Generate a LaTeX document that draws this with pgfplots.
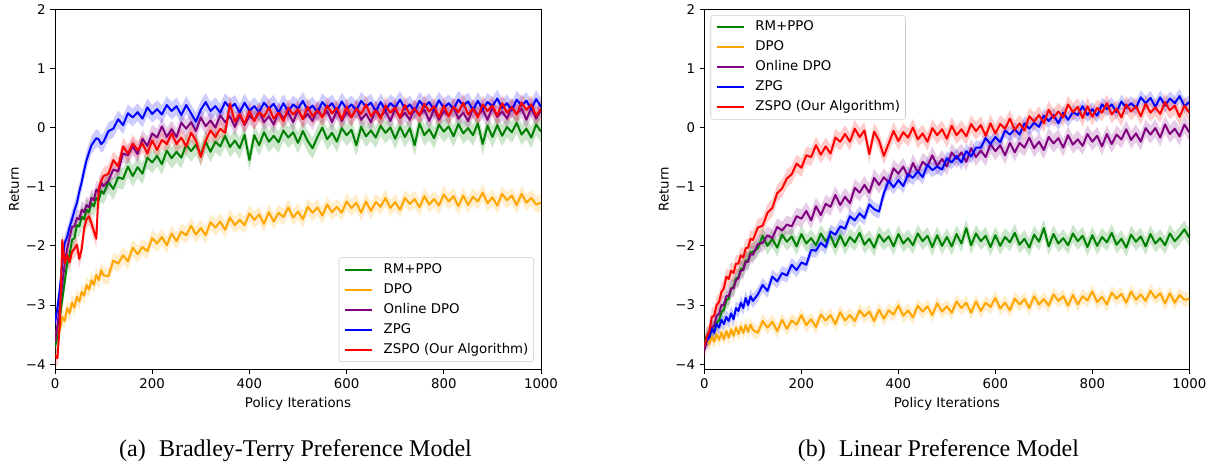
\documentclass[border=0pt]{standalone}
\usepackage{fontspec}
\setmainfont{DejaVu Sans}
\newfontfamily\capfont{Liberation Serif}
\usepackage{pgfplots}
\usepackage{pgfplotstable}
\pgfplotsset{compat=1.18}
\usepgfplotslibrary{fillbetween}

\definecolor{mgreen}{HTML}{008000}
\definecolor{morange}{HTML}{FFA500}
\definecolor{mpurple}{HTML}{800080}
\definecolor{mblue}{HTML}{0000FF}
\definecolor{mred}{HTML}{FF0000}

% (a) Bradley-Terry: g=RM+PPO, o=DPO, p=Online DPO, b=ZPG, r=ZSPO
\pgfplotstableread{
x g o p b r
0 -3.70 -3.60 -3.62 -3.30 -3.85
5 -3.55 -3.38 -3.35 -3.05 -3.90
10 -3.20 -3.42 -3.00 -2.72 -3.30
15 -2.90 -3.20 -2.65 -2.30 -1.90
20 -2.60 -3.27 -2.30 -1.95 -2.30
25 -2.30 -3.05 -2.05 -1.85 -2.15
30 -2.15 -3.14 -1.86 -1.68 -2.28
35 -1.90 -2.96 -1.68 -1.55 -2.10
40 -1.87 -3.04 -1.67 -1.40 -2.05
45 -1.65 -2.86 -1.53 -1.28 -1.98
50 -1.67 -2.94 -1.55 -1.08 -2.22
55 -1.51 -2.78 -1.39 -0.92 -2.05
60 -1.55 -2.84 -1.43 -0.72 -1.70
65 -1.39 -2.66 -1.31 -0.55 -1.55
70 -1.43 -2.74 -1.35 -0.42 -1.50
75 -1.28 -2.58 -1.19 -0.30 -1.62
80 -1.33 -2.66 -1.23 -0.24 -1.75
85 -1.19 -2.49 -1.05 -0.18 -1.88
90 -1.23 -2.58 -1.09 -0.20 -1.02
95 -1.07 -2.41 -0.93 -0.28 -0.90
100 -1.12 -2.50 -0.99 -0.24 -0.82
110 -0.92 -2.51 -0.90 -0.06 -0.78
120 -1.04 -2.25 -0.71 -0.02 -0.55
130 -0.84 -2.30 -0.74 0.14 -0.66
140 -0.87 -2.16 -0.44 0.04 -0.32
150 -0.66 -2.26 -0.47 0.24 -0.44
160 -0.82 -2.03 -0.32 0.17 -0.27
170 -0.67 -2.14 -0.45 0.26 -0.38
180 -0.78 -2.02 -0.19 0.15 -0.27
190 -0.51 -2.09 -0.31 0.34 -0.44
200 -0.59 -1.87 -0.10 0.23 -0.22
210 -0.48 -1.96 -0.17 0.31 -0.38
220 -0.62 -1.85 0.02 0.22 -0.21
230 -0.39 -1.99 -0.16 0.38 -0.28
240 -0.52 -1.79 -0.03 0.28 -0.10
250 -0.41 -1.92 -0.16 0.36 -0.28
260 -0.51 -1.76 0.08 0.21 -0.17
270 -0.29 -1.82 -0.02 0.38 -0.32
280 -0.40 -1.66 0.09 0.24 -0.09
290 -0.29 -1.81 -0.06 0.10 -0.22
300 -0.46 -1.70 0.17 0.30 -0.50
310 -0.24 -1.82 0.02 0.43 -0.22
320 -0.41 -1.60 0.12 0.28 -0.05
330 -0.24 -1.69 0.00 0.36 -0.16
340 -0.32 -1.59 0.21 0.25 -0.02
350 -0.14 -1.73 0.09 0.43 -0.09
360 -0.33 -1.52 0.19 0.33 0.40
370 -0.22 -1.65 0.01 0.40 0.10
380 -0.35 -1.56 0.21 0.25 0.23
390 -0.12 -1.65 0.04 0.42 0.06
400 -0.55 -1.45 0.20 0.28 0.28
410 -0.13 -1.56 0.12 0.36 0.11
420 -0.30 -1.47 0.28 0.26 0.26
430 -0.08 -1.63 0.09 0.42 0.18
440 -0.24 -1.43 0.19 0.32 0.34
450 -0.14 -1.59 0.05 0.40 0.15
460 -0.25 -1.44 0.27 0.25 0.25
470 -0.05 -1.51 0.16 0.41 0.11
480 -0.17 -1.35 0.25 0.27 0.33
490 -0.08 -1.52 0.09 0.39 0.22
500 -0.26 -1.42 0.30 0.32 0.31
510 -0.06 -1.55 0.14 0.45 0.14
520 -0.23 -1.34 0.23 0.29 0.35
530 -0.35 -1.44 0.11 0.37 0.19
540 -0.16 -1.35 0.31 0.25 0.29
550 0.00 -1.49 0.19 0.43 0.17
560 -0.20 -1.30 0.28 0.33 0.37
570 -0.09 -1.43 0.09 0.41 0.24
580 -0.24 -1.34 0.29 0.27 0.33
590 -0.01 -1.44 0.11 0.44 0.14
600 -0.13 -1.25 0.26 0.31 0.35
610 -0.04 -1.36 0.17 0.39 0.17
620 -0.30 -1.27 0.33 0.29 0.32
630 0.01 -1.44 0.13 0.45 0.23
640 -0.15 -1.25 0.23 0.35 0.39
650 -0.05 -1.41 0.09 0.42 0.19
660 -0.17 -1.26 0.31 0.27 0.29
670 0.03 -1.34 0.19 0.43 0.15
680 -0.09 -1.19 0.28 0.29 0.37
690 0.00 -1.36 0.11 0.41 0.25
700 -0.19 -1.26 0.32 0.34 0.34
710 0.01 -1.39 0.16 0.47 0.17
720 -0.16 -1.19 0.25 0.31 0.38
730 -0.01 -1.29 0.13 0.39 0.22
740 -0.30 -1.21 0.33 0.27 0.32
750 0.07 -1.35 0.21 0.45 0.20
760 -0.13 -1.16 0.30 0.35 0.40
770 -0.03 -1.30 0.11 0.43 0.27
780 -0.18 -1.21 0.31 0.29 0.36
790 0.05 -1.32 0.13 0.46 0.17
800 -0.07 -1.13 0.28 0.33 0.37
810 0.02 -1.25 0.19 0.41 0.19
820 -0.15 -1.16 0.35 0.31 0.35
830 0.06 -1.33 0.15 0.47 0.26
840 -0.10 -1.15 0.25 0.37 0.42
850 -0.01 -1.31 0.11 0.44 0.22
860 -0.13 -1.17 0.33 0.29 0.32
870 0.07 -1.25 0.21 0.45 0.17
880 -0.28 -1.10 0.30 0.31 0.39
890 0.03 -1.28 0.13 0.43 0.28
900 -0.16 -1.18 0.34 0.36 0.37
910 0.04 -1.32 0.18 0.49 0.20
920 -0.14 -1.12 0.27 0.33 0.41
930 0.01 -1.23 0.15 0.41 0.25
940 -0.08 -1.15 0.35 0.29 0.34
950 0.08 -1.31 0.23 0.47 0.22
960 -0.12 -1.12 0.32 0.37 0.42
970 -0.02 -1.27 0.13 0.45 0.30
980 -0.17 -1.19 0.33 0.31 0.39
990 0.05 -1.30 0.15 0.48 0.20
1000 -0.07 -1.27 0.30 0.35 0.32
}\btdata

% (b) Linear preference model
\pgfplotstableread{
x g o p b r
0 -3.62 -3.72 -3.75 -3.70 -3.70
5 -3.52 -3.60 -3.60 -3.58 -3.52
10 -3.52 -3.66 -3.52 -3.55 -3.45
15 -3.42 -3.53 -3.38 -3.40 -3.20
20 -3.42 -3.62 -3.35 -3.47 -3.18
25 -3.30 -3.49 -3.18 -3.32 -3.00
30 -3.26 -3.59 -3.15 -3.38 -2.95
35 -3.12 -3.46 -3.00 -3.25 -2.78
40 -3.08 -3.58 -3.00 -3.32 -2.72
45 -2.92 -3.44 -2.85 -3.20 -2.52
50 -2.89 -3.55 -2.85 -3.27 -2.56
55 -2.72 -3.41 -2.72 -3.14 -2.42
60 -2.69 -3.52 -2.72 -3.24 -2.46
65 -2.55 -3.38 -2.58 -3.05 -2.30
70 -2.53 -3.49 -2.55 -3.10 -2.30
75 -2.39 -3.36 -2.42 -2.96 -2.16
80 -2.38 -3.47 -2.41 -3.05 -2.20
85 -2.25 -3.34 -2.27 -2.88 -2.04
90 -2.24 -3.45 -2.27 -3.00 -2.03
95 -2.11 -3.33 -2.14 -2.85 -1.88
100 -2.10 -3.42 -2.15 -2.93 -1.90
110 -2.04 -3.47 -1.97 -2.82 -1.69
120 -1.83 -3.27 -1.95 -2.66 -1.66
130 -2.00 -3.38 -1.82 -2.76 -1.44
140 -1.88 -3.28 -1.87 -2.52 -1.36
150 -2.03 -3.44 -1.68 -2.60 -1.11
160 -1.81 -3.25 -1.74 -2.46 -1.03
170 -1.93 -3.40 -1.64 -2.50 -0.86
180 -1.84 -3.26 -1.67 -2.32 -0.79
190 -2.01 -3.33 -1.50 -2.41 -0.61
200 -1.80 -3.17 -1.54 -2.28 -0.68
210 -1.96 -3.34 -1.41 -2.32 -0.47
220 -1.87 -3.24 -1.57 -2.07 -0.50
230 -1.99 -3.37 -1.33 -2.08 -0.30
240 -1.79 -3.16 -1.48 -1.95 -0.46
250 -1.92 -3.26 -1.29 -2.02 -0.32
260 -1.83 -3.17 -1.34 -1.76 -0.44
270 -2.02 -3.32 -1.14 -1.81 -0.17
280 -1.82 -3.12 -1.31 -1.67 -0.24
290 -2.00 -3.26 -1.17 -1.71 -0.11
300 -1.85 -3.17 -1.28 -1.50 -0.24
310 -1.94 -3.27 -1.02 -1.57 -0.02
320 -1.78 -3.09 -1.10 -1.45 -0.16
330 -1.98 -3.19 -0.97 -1.53 -0.05
340 -1.88 -3.11 -1.10 -1.30 -0.45
350 -2.03 -3.27 -0.85 -1.38 -0.07
360 -1.81 -3.08 -0.97 -1.42 -0.22
370 -1.93 -3.23 -0.84 -1.11 -0.48
380 -1.84 -3.09 -0.93 -0.90 -0.27
390 -2.01 -3.16 -0.69 -1.01 -0.06
400 -1.80 -3.01 -0.78 -0.89 -0.23
410 -1.96 -3.18 -0.66 -0.99 -0.08
420 -1.87 -3.09 -0.83 -0.79 -0.17
430 -1.99 -3.21 -0.60 -0.85 0.00
440 -1.79 -3.01 -0.76 -0.74 -0.20
450 -1.92 -3.11 -0.58 -0.84 -0.10
460 -1.83 -3.02 -0.65 -0.63 -0.24
470 -2.02 -3.17 -0.47 -0.72 -0.01
480 -1.82 -2.97 -0.65 -0.66 -0.13
490 -2.00 -3.11 -0.53 -0.71 -0.03
500 -1.85 -3.02 -0.66 -0.52 -0.19
510 -2.01 -3.13 -0.42 -0.59 0.03
520 -1.80 -2.94 -0.53 -0.48 -0.13
530 -1.96 -3.05 -0.42 -0.59 -0.03
540 -1.70 -2.96 -0.58 -0.40 -0.15
550 -1.99 -3.13 -0.35 -0.49 0.06
560 -1.79 -2.94 -0.50 -0.34 -0.06
570 -1.92 -3.10 -0.39 -0.34 0.04
580 -1.83 -2.96 -0.50 -0.18 -0.14
590 -2.02 -3.03 -0.28 -0.28 0.07
600 -1.82 -2.88 -0.40 -0.16 -0.10
610 -2.00 -3.06 -0.30 -0.25 0.06
620 -1.85 -2.96 -0.47 -0.05 -0.02
630 -1.94 -3.09 -0.26 -0.12 0.15
640 -1.78 -2.89 -0.42 -0.03 -0.04
650 -1.98 -2.99 -0.26 -0.12 0.07
660 -1.88 -2.90 -0.34 0.07 -0.05
670 -2.03 -3.05 -0.17 -0.02 0.19
680 -1.81 -2.85 -0.35 0.08 0.10
690 -1.93 -2.99 -0.24 0.01 0.21
700 -1.70 -2.90 -0.38 0.20 0.07
710 -2.01 -3.01 -0.16 0.11 0.30
720 -1.80 -2.82 -0.27 0.21 0.16
730 -1.96 -2.93 -0.18 0.07 0.27
740 -1.87 -2.85 -0.34 0.25 0.17
750 -1.99 -3.01 -0.13 0.13 0.39
760 -1.79 -2.83 -0.29 0.26 0.26
770 -1.92 -2.99 -0.20 0.21 0.35
780 -1.83 -2.85 -0.31 0.36 0.16
790 -2.02 -2.92 -0.11 0.21 0.36
800 -1.82 -2.77 -0.24 0.31 0.18
810 -2.00 -2.95 -0.14 0.20 0.33
820 -1.85 -2.86 -0.32 0.39 0.25
830 -1.94 -2.99 -0.11 0.31 0.41
840 -1.78 -2.79 -0.28 0.39 0.22
850 -1.98 -2.89 -0.12 0.26 0.32
860 -1.88 -2.81 -0.20 0.44 0.17
870 -2.03 -2.96 -0.03 0.33 0.39
880 -1.81 -2.77 -0.21 0.41 0.27
890 -1.93 -2.91 -0.10 0.33 0.36
900 -1.84 -2.82 -0.24 0.51 0.19
910 -2.01 -2.93 -0.01 0.41 0.40
920 -1.80 -2.76 -0.12 0.50 0.25
930 -1.96 -2.88 -0.01 0.35 0.34
940 -1.87 -2.80 -0.17 0.51 0.23
950 -1.99 -2.97 0.05 0.37 0.43
960 -1.79 -2.80 -0.11 0.49 0.29
970 -1.92 -2.96 -0.02 0.41 0.37
980 -1.83 -2.83 -0.15 0.53 0.18
990 -1.72 -2.91 0.05 0.36 0.37
1000 -1.86 -2.90 -0.08 0.43 0.25
}\lindata

% mean line with a shaded band of +/- #4 around it
\newcommand\addseries[4]{%
  \addplot[draw=none, forget plot, name path=up#2] table[x=x, y expr=\thisrow{#2}+#4]{#1};
  \addplot[draw=none, forget plot, name path=lo#2] table[x=x, y expr=\thisrow{#2}-#4]{#1};
  \addplot[fill=#3, fill opacity=0.2, draw=none, forget plot] fill between[of=up#2 and lo#2];
  \addplot[#3, line width=1.5pt, line join=round] table[x=x, y=#2]{#1};
}

\pgfplotsset{
  ret/.style={
    scale only axis, height=269.9pt,
    xmin=0, xmax=1000, ymin=-4.08, ymax=2,
    xtick={0,200,...,1000}, xticklabels={0,200,400,600,800,1000},
    ytick={-4,...,2}, yticklabels={−4,−3,−2,−1,0,1,2},
    tick align=outside, xtick pos=left, ytick pos=left,
    major tick length=3.5pt,
    every tick/.style={black, line width=0.6pt},
    axis line style={line width=0.6pt},
    tick label style={font=\fontsize{10}{12}\selectfont},
    xlabel={Policy Iterations}, ylabel={Return},
    every axis x label/.style={at={(axis description cs:0.5,-0.097)}, anchor=center, font=\fontsize{10}{12}\selectfont},
    every axis y label/.style={at={(axis description cs:-0.084,0.5)}, anchor=center, rotate=90, font=\fontsize{10}{12}\selectfont},
    legend cell align=left,
    legend image code/.code={\draw[##1, line width=1.5pt] (0pt,0pt) -- (20pt,0pt); \path (28pt,0pt);},
    legend style={font=\fontsize{10}{12}\selectfont, draw=black!20, rounded corners=2pt,
      fill=white, fill opacity=0.8, text opacity=1, inner sep=4pt, row sep=5pt,
      nodes={inner sep=0pt, text height=7.5pt, text depth=2.5pt}},
  },
}

\begin{document}
\begin{tikzpicture}

\begin{axis}[ret, width=364.5pt, at={(0pt,0pt)}, anchor=south west,
    legend style={at={(0.9856,0.0196)}, anchor=south east}]
  \addseries{\btdata}{g}{mgreen}{0.18}
  \addlegendentry{RM+PPO}
  \addseries{\btdata}{o}{morange}{0.14}
  \addlegendentry{DPO}
  \addseries{\btdata}{p}{mpurple}{0.15}
  \addlegendentry{Online DPO}
  \addseries{\btdata}{b}{mblue}{0.15}
  \addlegendentry{ZPG}
  \addseries{\btdata}{r}{mred}{0.15}
  \addlegendentry{ZSPO (Our Algorithm)}
\end{axis}

\begin{axis}[ret, width=363.6pt, at={(487.1pt,0pt)}, anchor=south west,
    legend style={at={(0.0124,0.9833)}, anchor=north west}]
  \addseries{\lindata}{g}{mgreen}{0.15}
  \addlegendentry{RM+PPO}
  \addseries{\lindata}{o}{morange}{0.12}
  \addlegendentry{DPO}
  \addseries{\lindata}{p}{mpurple}{0.15}
  \addlegendentry{Online DPO}
  \addseries{\lindata}{b}{mblue}{0.12}
  \addlegendentry{ZPG}
  \addseries{\lindata}{r}{mred}{0.15}
  \addlegendentry{ZSPO (Our Algorithm)}
\end{axis}

\node[anchor=base, font=\capfont\fontsize{18}{21}\selectfont] at (180.4pt,-66pt)
  {(a)\hspace{0.3em} Bradley-Terry Preference Model};
\node[anchor=base, font=\capfont\fontsize{18}{21}\selectfont] at (662.6pt,-66pt)
  {(b)\hspace{0.3em} Linear Preference Model};

\pgfresetboundingbox
\useasboundingbox (-41.25pt,-72.75pt) rectangle (869.25pt,276.75pt);
\end{tikzpicture}
\end{document}
